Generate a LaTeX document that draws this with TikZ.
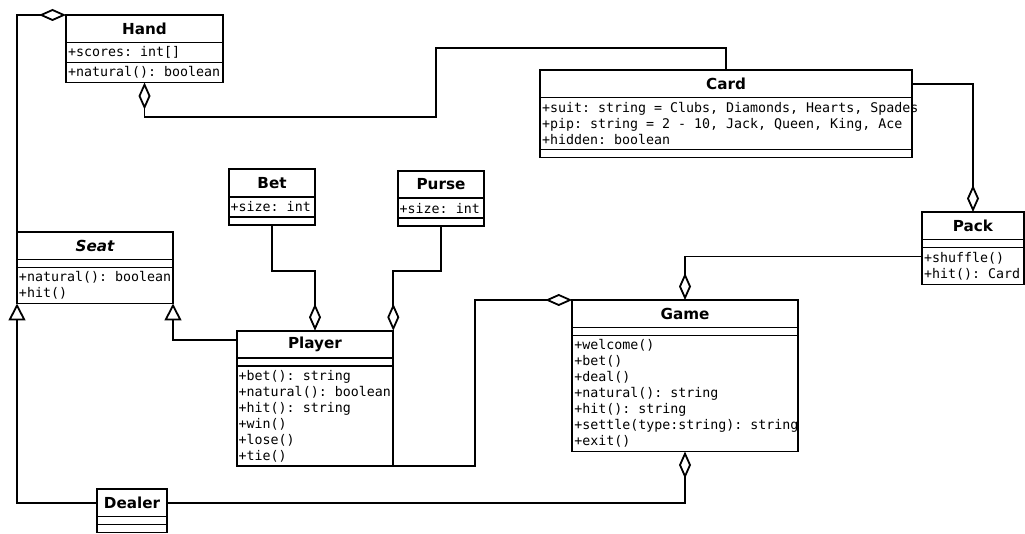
\documentclass[tikz,border=0pt]{standalone}
\usepackage{fontspec}
\usepackage{tikz}
\usetikzlibrary{positioning,arrows.meta}

\newfontfamily\umlsans{DejaVu Sans}
\newfontfamily\umlmono{DejaVu Sans Mono}
\newcommand\titlefont{\umlsans\bfseries\fontsize{15.2}{17}\selectfont}
\newcommand\partfont{\umlmono\fontsize{13.3}{16}\selectfont}

\begin{document}
\begin{tikzpicture}[x=1pt, y=-1pt,
          classname/.style={draw, line width=1.8pt, outer sep=0pt, inner sep=0pt, minimum width=#1, minimum height=27.5pt, font=\titlefont, anchor=north west},
          classpart/.style={draw, line width=1.8pt, outer sep=0pt, inner xsep=2pt, inner ysep=2pt, text width=#1, align=left, font=\partfont,
            execute at begin node={\spaceskip=0.602em\xspaceskip=0.602em\relax}},
          agg/.style={-{Diamond[open, length=27pt, width=12pt]}, line width=1.8pt},
          isa/.style={-{Triangle[open, length=17pt, width=17pt]}, line width=1.8pt}
        ]
          \useasboundingbox (0,0) rectangle (1025,534);

          % Hand
          \node[classname=157pt] (hand) at (66,15) {Hand};
          \node[classpart=153pt, minimum height=20pt, below=0pt of hand] (handattr) {+scores: int[]};
          \node[classpart=153pt, minimum height=20pt, below=0pt of handattr] (handops) {\mbox{+natural(): boolean}};

          % Card
          \node[classname=372pt] (card) at (540,70) {Card};
          \node[classpart=368pt, minimum height=52pt, below=0pt of card] (cardattr) {\mbox{+suit: string = Clubs, Diamonds, Hearts, Spades}\\\mbox{+pip: string = 2 - 10, Jack, Queen, King, Ace}\\+hidden: boolean};
          \node[classpart=368pt, minimum height=8pt, below=0pt of cardattr] (cardops) {};

          % Bet and Purse
          \node[classname=86.6pt] (bet) at (228.7,169.3) {Bet};
          \node[classpart=82.6pt, minimum height=20pt, below=0pt of bet] (betattr) {\mbox{+size: int}};
          \node[classpart=82.6pt, minimum height=8pt, below=0pt of betattr] (betops) {};

          \node[classname=86.6pt] (purse) at (397.7,170.7) {Purse};
          \node[classpart=82.6pt, minimum height=20pt, below=0pt of purse] (purseattr) {\mbox{+size: int}};
          \node[classpart=82.6pt, minimum height=8pt, below=0pt of purseattr] (purseops) {};

          % Seat (abstract)
          \node[classname=156pt, font=\titlefont\itshape] (seat) at (17,232) {Seat};
          \node[classpart=152pt, minimum height=8pt, below=0pt of seat] (seatattr) {};
          \node[classpart=152pt, minimum height=36pt, below=0pt of seatattr] (seatops) {\mbox{+natural(): boolean}\\+hit()};

          % Pack
          \node[classname=102pt] (pack) at (922,212) {Pack};
          \node[classpart=98pt, minimum height=8pt, below=0pt of pack] (packattr) {};
          \node[classpart=98pt, minimum height=37pt, below=0pt of packattr] (packops) {+shuffle()\\\mbox{+hit(): Card}};

          % Player
          \node[classname=156.6pt] (player) at (236.7,330.7) {Player};
          \node[classpart=152.6pt, minimum height=8pt, below=0pt of player] (playerattr) {};
          \node[classpart=152.6pt, minimum height=100pt, below=0pt of playerattr] (playerops) {\mbox{+bet(): string}\\\mbox{+natural(): boolean}\\\mbox{+hit(): string}\\+win()\\+lose()\\+tie()};

          % Game
          \node[classname=225.4pt] (game) at (572.3,300) {Game};
          \node[classpart=221.4pt, minimum height=8pt, below=0pt of game] (gameattr) {};
          \node[classpart=221.4pt, minimum height=116pt, below=0pt of gameattr] (gameops) {+welcome()\\+bet()\\+deal()\\\mbox{+natural(): string}\\\mbox{+hit(): string}\\\mbox{+settle(type:string): string}\\+exit()};

          % Dealer
          \node[classname=70pt] (dealer) at (97,489) {Dealer};
          \node[classpart=66pt, minimum height=8pt, below=0pt of dealer] (dealerattr) {};
          \node[classpart=66pt, minimum height=8pt, below=0pt of dealerattr] (dealerops) {};

          % Aggregations
          \draw[agg] (seat.north west) |- (hand.north west);
          \draw[agg] (card.north) -- ++(0,-22) -| (436,117) -| (handops.south);
          \draw[agg] (card.east) -| (pack.north);
          \draw[agg] ([yshift=-9pt]packops.north west) -| (game.north);
          \draw[agg] (playerops.south east) -| ([xshift=-97pt]game.north west) -- (game.north west);
          \draw[agg] (betops.south) -- ++(0,46) -| (player.north);
          \draw[agg] (purseops.south) -- ++(0,45) -| (player.north east);
          \draw[agg] (dealer.east) -| (gameops.south);

          % Generalizations
          \draw[isa] ([yshift=-9pt]player.north west) -| (seatops.south east);
          \draw[isa] (dealer.west) -| (seatops.south west);

        \end{tikzpicture}
\end{document}
